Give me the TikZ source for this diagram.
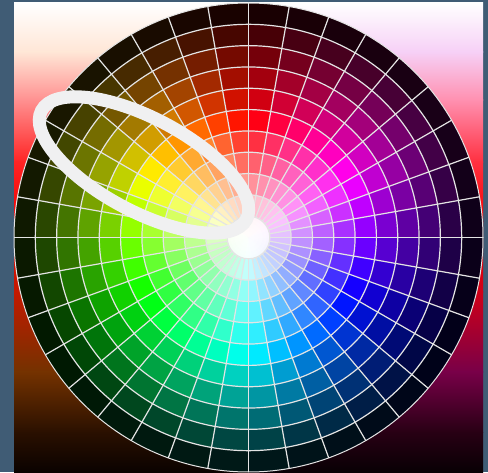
\documentclass[tikz,border=0pt]{standalone}
\begin{document}
\begin{tikzpicture}[x=1pt,y=1pt]
\definecolor{bgslate}{HTML}{405C75}
\definecolor{gridln}{HTML}{E4E4E4}
\definecolor{ringcol}{HTML}{F0F0F1}
\definecolor{L0}{HTML}{FFFFFF}
\definecolor{L1}{HTML}{FFE6D6}
\definecolor{L2}{HTML}{FF9090}
\definecolor{L3}{HTML}{FF2424}
\definecolor{L4}{HTML}{F00000}
\definecolor{L5}{HTML}{C41A00}
\definecolor{L6}{HTML}{743200}
\definecolor{L7}{HTML}{2A1000}
\definecolor{L8}{HTML}{0A0200}
\definecolor{R0}{HTML}{FFFFFF}
\definecolor{R1}{HTML}{F6D0F6}
\definecolor{R2}{HTML}{FF90B0}
\definecolor{R3}{HTML}{FF3040}
\definecolor{R4}{HTML}{F80000}
\definecolor{R5}{HTML}{D00018}
\definecolor{R6}{HTML}{780048}
\definecolor{R7}{HTML}{280014}
\definecolor{R8}{HTML}{080004}
\useasboundingbox (0,0) rectangle (488,472);
\fill[bgslate] (0,0) rectangle (488,472);
% background square, left and right halves
\foreach \yt/\yb/\ct/\cb in {469/420/L0/L1, 420/372/L1/L2, 372/310/L2/L3, 310/250/L3/L4, 250/180/L4/L5, 180/100/L5/L6, 100/40/L6/L7, 40/0/L7/L8}{
  \shade[top color=\ct, bottom color=\cb] (14,\yb-0.4) rectangle (249,\yt);
}
\foreach \yt/\yb/\ct/\cb in {469/420/R0/R1, 420/372/R1/R2, 372/310/R2/R3, 310/250/R3/R4, 250/180/R4/R5, 180/100/R5/R6, 100/40/R6/R7, 40/0/R7/R8}{
  \shade[top color=\ct, bottom color=\cb] (248.5,\yb-0.4) rectangle (483,\yt);
}
% colour wheel
\begin{scope}[shift={(248.5,234.5)}]
\fill[white] (0,0) circle[radius=22pt];
\foreach \j in {0,...,35}{
  \pgfmathsetmacro\hue{mod(10*\j+5+270,360)/360}
  \pgfmathsetmacro\aa{10*\j}
  \pgfmathsetmacro\ab{10*\j+10}
  \foreach \i in {0,...,10}{
    \pgfmathsetmacro\sat{\i<6 ? 0.05+0.19*\i : 1}
    \pgfmathsetmacro\bri{\i<6 ? 1 : 1-0.18*(\i-5)}
    \pgfmathsetmacro\ri{\i==0 ? 0.01 : 21.318*\i}
    \pgfmathsetmacro\ro{21.318*(\i+1)}
    \definecolor{cellc}{hsb}{\hue,\sat,\bri}
    \ifnum\i=0
      \fill[cellc] (0,0) -- (\aa:\ro pt) arc[start angle=\aa, end angle=\ab, radius=\ro pt] -- cycle;
    \else
      \fill[cellc] (\aa:\ri pt) -- (\aa:\ro pt) arc[start angle=\aa, end angle=\ab, radius=\ro pt] -- (\ab:\ri pt) arc[start angle=\ab, end angle=\aa, radius=\ri pt] -- cycle;
    \fi
  }
}
\foreach \r in {6,10,14,18,22}{
  \fill[white, opacity=0.25] (0,0) circle[radius=\r pt];
}
\foreach \i in {1,...,10}{
  \pgfmathsetmacro\rr{21.318*\i}
  \draw[gridln, line width=1.2] (0,0) circle[radius=\rr pt];
}
\draw[gridln, line width=1] (0,0) circle[radius=234.5pt];
\foreach \a in {0,10,...,350}{
  \draw[gridln, line width=1.2] (\a:21.318pt) -- (\a:234.5pt);
}
\end{scope}
% highlight ellipse
\draw[ringcol, line width=13, rotate around={-28:(144,307)}] (144,307) ellipse[x radius=116pt, y radius=46.5pt];
\end{tikzpicture}
\end{document}
